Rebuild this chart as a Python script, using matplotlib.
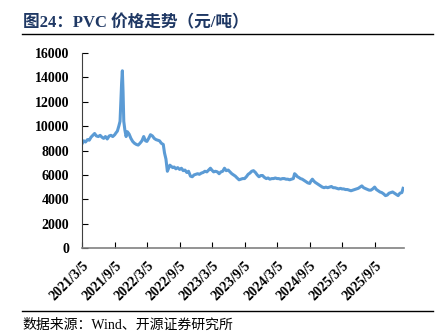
"""
PVC price trend, 2021-2026 (yuan/ton)
"""
import datetime as dt
import matplotlib.pyplot as plt

plt.rcParams['font.family'] = ['Liberation Serif', 'Noto Sans CJK SC']

# price readings (yuan/ton), one pair of lists per year, dates as month-day
days_2021 = ['03-05', '03-15', '03-25', '04-05', '04-15', '04-25',
             '05-05', '05-15', '05-25', '06-05', '06-15', '06-25',
             '07-05', '07-15', '07-25', '08-05', '08-15', '08-25',
             '09-05', '09-12', '09-20', '09-28', '10-05', '10-10',
             '10-14', '10-18', '10-22', '10-26', '11-01', '11-08',
             '11-15', '11-25', '12-05', '12-15', '12-25']
price_2021 = [8550, 8800, 8700, 8900, 8850, 9100,
              9250, 9400, 9200, 9150, 9250, 9100,
              9000, 9150, 8950, 9200, 9250, 9150,
              9300, 9450, 9600, 10000, 10400, 12200,
              13600, 14550, 12800, 10400, 9700, 9150,
              9550, 9350, 9000, 8750, 8600]

days_2022 = ['01-05', '01-15', '01-25', '02-05', '02-15', '02-25',
             '03-05', '03-15', '03-25', '04-05', '04-15', '04-25',
             '05-05', '05-15', '05-25', '06-05', '06-12', '06-20',
             '06-28', '07-05', '07-12', '07-20', '07-28', '08-05',
             '08-15', '08-25', '09-05', '09-15', '09-25', '10-05',
             '10-15', '10-25', '11-05', '11-15', '11-25', '12-05',
             '12-15', '12-25']
price_2022 = [8500, 8450, 8600, 8800, 9150, 8800,
              8750, 9000, 9300, 9200, 9000, 8900,
              8850, 8800, 8600, 8500, 7800, 7300,
              6300, 6550, 6800, 6700, 6600, 6650,
              6500, 6600, 6450, 6550, 6350, 6400,
              6200, 6300, 5900, 5850, 6000, 6050,
              6100, 6050]

days_2023 = ['01-05', '01-15', '01-25', '02-05', '02-15', '02-25',
             '03-05', '03-15', '03-25', '04-05', '04-15', '04-25',
             '05-05', '05-15', '05-25', '06-05', '06-15', '06-25',
             '07-05', '07-15', '07-25', '08-05', '08-15', '08-25',
             '09-05', '09-15', '09-25', '10-05', '10-15', '10-25',
             '11-05', '11-15', '11-25', '12-05', '12-15', '12-25']
price_2023 = [6150, 6200, 6300, 6250, 6400, 6550,
              6400, 6250, 6300, 6250, 6100, 6250,
              6300, 6550, 6350, 6400, 6250, 6100,
              6000, 5900, 5750, 5600, 5650, 5700,
              5700, 5850, 6050, 6150, 6300, 6350,
              6200, 6000, 5850, 5950, 5950, 5800]

days_2024 = ['01-05', '01-15', '01-25', '02-05', '02-15', '02-25',
             '03-05', '03-15', '03-25', '04-05', '04-15', '04-25',
             '05-05', '05-15', '05-25', '06-05', '06-12', '06-20',
             '06-28', '07-05', '07-15', '07-25', '08-05', '08-15',
             '08-25', '09-05', '09-12', '09-20', '09-28', '10-05',
             '10-15', '10-25', '11-05', '11-15', '11-25', '12-05',
             '12-15', '12-25']
price_2024 = [5700, 5750, 5650, 5700, 5700, 5750,
              5700, 5700, 5650, 5700, 5700, 5650,
              5650, 5600, 5650, 5700, 6100, 6000,
              5850, 5800, 5700, 5650, 5550, 5450,
              5350, 5300, 5500, 5650, 5500, 5400,
              5300, 5200, 5100, 5000, 4950, 5000,
              4950, 5000]

days_2025 = ['01-05', '01-15', '01-25', '02-05', '02-15', '02-25',
             '03-05', '03-15', '03-25', '04-05', '04-15', '04-25',
             '05-05', '05-15', '05-25', '06-05', '06-15', '06-25',
             '07-05', '07-12', '07-20', '07-28', '08-05', '08-15',
             '08-25', '09-05', '09-15', '09-25', '10-05', '10-15',
             '10-25', '11-05', '11-15', '11-25', '12-05', '12-15',
             '12-25']
price_2025 = [5050, 4950, 4950, 4900, 4850, 4900,
              4850, 4850, 4800, 4800, 4750, 4700,
              4750, 4800, 4850, 4900, 5000, 5100,
              4950, 4900, 4850, 4800, 4750, 4750,
              4850, 5000, 4800, 4700, 4600, 4550,
              4450, 4300, 4350, 4500, 4550, 4600,
              4500]

days_2026 = ['01-05', '01-15', '01-25', '02-05', '02-12']
price_2026 = [4400, 4300, 4500, 4550, 4900]

tick_labels = ['2021/3/5', '2021/9/5', '2022/3/5', '2022/9/5', '2023/3/5',
               '2023/9/5', '2024/3/5', '2024/9/5', '2025/3/5', '2025/9/5']

x, prices = [], []
for year, days, vals in [(2021, days_2021, price_2021), (2022, days_2022, price_2022),
                         (2023, days_2023, price_2023), (2024, days_2024, price_2024),
                         (2025, days_2025, price_2025), (2026, days_2026, price_2026)]:
    x += [dt.datetime.strptime(f'{year}-{d}', '%Y-%m-%d') for d in days]
    prices += vals
ticks = [dt.datetime.strptime(t, '%Y/%m/%d') for t in tick_labels]

fig = plt.figure(figsize=(4.36, 3.32), dpi=100)
ax = fig.add_axes([0.188, 0.253, 0.739, 0.587])

ax.plot(x, prices, color='#5B9BD5', linewidth=2.2)

ax.set_ylim(0, 16000)
ax.set_yticks(range(0, 16001, 2000))
ax.set_xlim(ticks[0], dt.datetime(2026, 2, 18))
ax.set_xticks(ticks)
ax.set_xticklabels(tick_labels, rotation=45, ha='right', rotation_mode='anchor')

for lab in ax.get_xticklabels() + ax.get_yticklabels():
    lab.set_fontweight('bold')
    lab.set_fontsize(10)

ax.tick_params(axis='both', direction='in', length=4, width=0.8)
ax.tick_params(axis='x', pad=8)
ax.tick_params(axis='y', pad=9)
for side in ['top', 'right']:
    ax.spines[side].set_visible(False)
ax.spines['left'].set_color('#404040')
ax.spines['bottom'].set_color('#808080')
ax.spines['bottom'].set_linewidth(1.2)

# header and source rules, drawn in figure coordinates
for y in (0.899, 0.063):
    ax.plot([0.05, 0.992], [y, y], color='black', linewidth=1,
            transform=fig.transFigure, clip_on=False)
fig.text(0.052, 0.93, '图24：PVC 价格走势（元/吨）', color='#1F3864',
         fontsize=12, fontweight='bold', va='center')
fig.text(0.052, 0.021, '数据来源：Wind、开源证券研究所', fontsize=10, va='center')

fig.savefig('out.png', dpi=100)
